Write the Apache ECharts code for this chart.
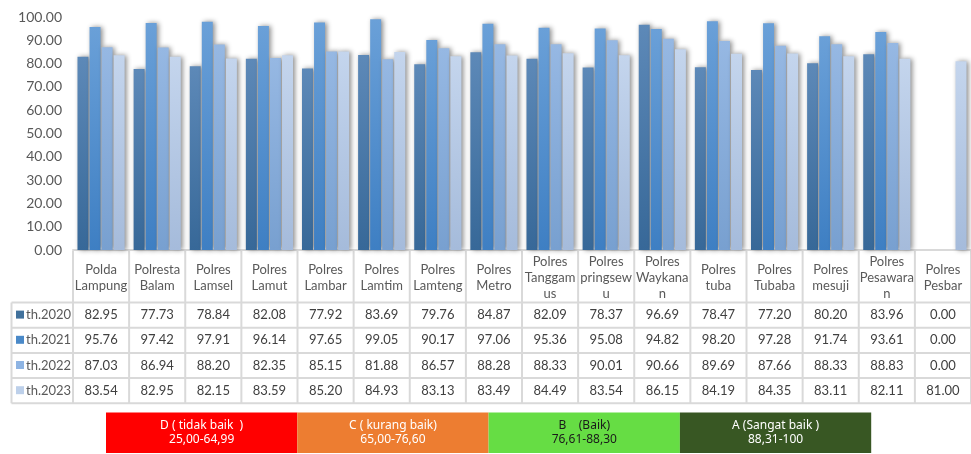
<!DOCTYPE html>
<html>
<head>
<meta charset="utf-8">
<script src="https://cdn.jsdelivr.net/npm/echarts@6/dist/echarts.min.js"></script>
<style>
html,body{margin:0;padding:0;background:#fff;}
#c{width:971px;height:454px;}
</style>
</head>
<body>
<div id="c"></div>
<script>
const categories = ["Polda\nLampung","Polresta\nBalam","Polres\nLamsel","Polres\nLamut","Polres\nLambar","Polres\nLamtim","Polres\nLamteng","Polres\nMetro","Polres\nTanggam\nus","Polres\npringsew\nu","Polres\nWaykana\nn","Polres\ntuba","Polres\nTubaba","Polres\nmesuji","Polres\nPesawara\nn","Polres\nPesbar"];
const seriesNames = ["th.2020","th.2021","th.2022","th.2023"];
const th2020 = [82.95,77.73,78.84,82.08,77.92,83.69,79.76,84.87,82.09,78.37,96.69,78.47,77.20,80.20,83.96,0.00];
const th2021 = [95.76,97.42,97.91,96.14,97.65,99.05,90.17,97.06,95.36,95.08,94.82,98.20,97.28,91.74,93.61,0.00];
const th2022 = [87.03,86.94,88.20,82.35,85.15,81.88,86.57,88.28,88.33,90.01,90.66,89.69,87.66,88.33,88.83,0.00];
const th2023 = [83.54,82.95,82.15,83.59,85.20,84.93,83.13,83.49,84.49,83.54,86.15,84.19,84.35,83.11,82.11,81.00];
const yTicks = [0,10,20,30,40,50,60,70,80,90,100];
const gradeLabels = ["D ( tidak baik  )\n25,00-64,99","C ( kurang baik)\n65,00-76,60","B    (Baik)\n76,61-88,30","A (Sangat baik )\n88,31-100"];

const allSeries = [th2020, th2021, th2022, th2023];
const gradTop = ['#5d89b8','#6aa0d8','#96b8e3','#c4d5ed'];
const gradBot = ['#376898','#3e7fc3','#78a0d0','#a5bbdb'];
const legendColor = ['#41719c','#4a89c8','#8eb4e3','#bdd0ea'];
const gradeColors = ['#ff0000','#ed7d31','#66dd44','#385723'];
const gradeText = ['#ffffff','#ffffff','#1a1a1a','#ffffff'];

const chart = echarts.init(document.getElementById('c'), null, {renderer:'canvas'});
const FONT = 'Lato, "Noto Sans", sans-serif';

chart.setOption({
  animation:false,
  grid:{left:73,right:0,top:17,bottom:204},
  xAxis:{type:'category',data:categories,
    axisLine:{show:true,lineStyle:{color:'#d9d9d9',width:2}},
    axisTick:{show:false},axisLabel:{show:false},splitLine:{show:false}},
  yAxis:{type:'value',min:yTicks[0],max:yTicks[yTicks.length-1],interval:10,
    axisLine:{show:false},axisTick:{show:false},splitLine:{show:false},
    axisLabel:{formatter:v=>v.toFixed(2),color:'#595959',fontSize:14,fontFamily:FONT,margin:11}},
  series: allSeries.map((d,i)=>({
    name:seriesNames[i],type:'bar',data:d,
    barGap:'10%',barCategoryGap:'16%',
    itemStyle:{
      color:new echarts.graphic.LinearGradient(0,0,0,1,[{offset:0,color:gradTop[i]},{offset:1,color:gradBot[i]}]),
      shadowColor:'rgba(0,0,0,0.45)',shadowBlur:5,shadowOffsetX:2,shadowOffsetY:0
    }
  }))
});

// Build data table below, aligned with the category axis
const c0 = chart.convertToPixel({xAxisIndex:0}, 0);
const c1 = chart.convertToPixel({xAxisIndex:0}, 1);
const band = c1 - c0;
const n = categories.length;
const leftX = c0 - band/2;
const rightX = leftX + band*n;
const headTop = 251, headBot = 302.5, rowH = 25.2;
const legLeft = 11.5;
const lineCol = '#d9d9d9';
const g = [];
function line(x1,y1,x2,y2){g.push({type:'line',shape:{x1,y1,x2,y2},style:{stroke:lineCol,lineWidth:2},silent:true});}
const tableBot = headBot + rowH*4;
for(let i=0;i<=n;i++){const x=leftX+band*i; line(x,headTop,x,tableBot);}
line(legLeft,headBot,legLeft,tableBot);
for(let r=0;r<=4;r++){const y=headBot+rowH*r; line(legLeft,y,rightX,y);}
for(let i=0;i<n;i++){
  const cx = chart.convertToPixel({xAxisIndex:0}, i);
  g.push({type:'text',x:cx,y:(headTop+headBot)/2+1,silent:true,
    style:{text:categories[i],fill:'#595959',font:'13px '+FONT,align:'center',verticalAlign:'middle',lineHeight:16}});
}
for(let r=0;r<4;r++){
  const cy = headBot + rowH*r + rowH/2;
  g.push({type:'rect',shape:{x:16,y:cy-4.5,width:8,height:8},style:{fill:legendColor[r]},silent:true});
  g.push({type:'text',x:26,y:cy,silent:true,style:{text:seriesNames[r],fill:'#595959',font:'13px '+FONT,align:'left',verticalAlign:'middle'}});
  for(let i=0;i<n;i++){
    const cx = chart.convertToPixel({xAxisIndex:0}, i);
    g.push({type:'text',x:cx,y:cy,silent:true,style:{text:allSeries[r][i].toFixed(2),fill:'#404040',font:'13px '+FONT,align:'center',verticalAlign:'middle'}});
  }
}
const boxX = 106, boxW = 191.3, boxY = 412.5, boxH = 40.5;
for(let k=0;k<4;k++){
  const x = boxX + boxW*k;
  g.push({type:'rect',shape:{x:x,y:boxY,width:boxW,height:boxH},style:{fill:gradeColors[k]},silent:true});
  g.push({type:'text',x:x+boxW/2,y:boxY+boxH/2,silent:true,style:{text:gradeLabels[k],fill:gradeText[k],font:'12px "Noto Sans", sans-serif',align:'center',verticalAlign:'middle',lineHeight:14}});
}
chart.setOption({graphic:g});
</script>
</body>
</html>
